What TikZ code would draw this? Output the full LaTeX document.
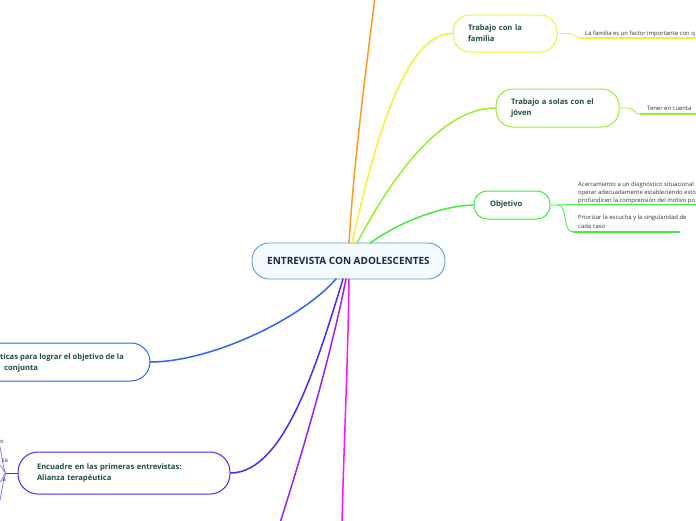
\documentclass[tikz,border=0pt]{standalone}
\usepackage{fontspec}
\setmainfont{Open Sans}
\definecolor{ctext}{HTML}{1A2A48}
\definecolor{ntext}{HTML}{1F4E3D}
\definecolor{stext}{HTML}{333333}
\definecolor{corange}{HTML}{FF9A22}
\definecolor{cyellow}{HTML}{F2F235}
\definecolor{cyg}{HTML}{99EE33}
\definecolor{cgreen}{HTML}{3DEE3D}
\definecolor{cblue}{HTML}{2A66EE}
\definecolor{cviolet}{HTML}{4A2AF0}
\definecolor{cviolet2}{HTML}{8877FF}
\definecolor{cpurple}{HTML}{9A22EE}
\definecolor{cmagenta}{HTML}{FF11FF}
\definecolor{cborder}{HTML}{5B9BD5}
\definecolor{cfill}{HTML}{F5FAFE}
\tikzset{
  pill/.style={draw, fill=white, line width=1pt, rounded corners=17pt, inner ysep=0pt, font=\fontsize{7.6}{11}\selectfont\bfseries, text=ntext, align=left},
  branch/.style={line width=1.5pt, line cap=round},
  sub/.style={line width=0.8pt},
  uline/.style={line width=1.5pt},
  small/.style={font=\fontsize{5.9}{8.2}\selectfont, text=stext, inner sep=0pt, anchor=base west, align=left},
}
\begin{document}
\begin{tikzpicture}[x=1pt,y=-1pt]
\useasboundingbox (0,0) rectangle (696,520);

% central node
\node[draw=cborder, fill=cfill, line width=0.9pt, rounded corners=17pt, minimum width=193pt, minimum height=36pt, font=\fontsize{10}{12}\selectfont\bfseries, text=ctext] (c) at (348.5,261) {ENTREVISTA CON ADOLESCENTES};
\coordinate (cT1) at (349,243);
\coordinate (cT2) at (352,243);
\coordinate (cT3) at (357,243);
\coordinate (cT4) at (370,243);
\coordinate (cB1) at (336,279);
\coordinate (cB2) at (343,279);
\coordinate (cB3) at (346,279);
\coordinate (cB4) at (349,279);

% right nodes
\node[pill, draw=cyellow, text width=74pt, inner xsep=15pt, minimum height=37pt] (fam) at (505,33.5) {Trabajo con la\\familia};
\node[pill, draw=cyg, text width=93pt, inner xsep=15pt, minimum height=38pt] (sol) at (557.5,108) {Trabajo a solas con el\\jóven};
\node[pill, draw=cgreen, text width=44pt, inner xsep=16pt, minimum height=28pt, rounded corners=13pt] (obj) at (512,205) {Objetivo};

% left nodes
\node[pill, draw=cviolet, text width=174pt, inner xsep=19pt, minimum height=42pt, rounded corners=20pt] (enc) at (124,473) {Encuadre en las primeras entrevistas:\\Alianza terapéutica};
\draw[cblue, line width=1pt, rounded corners=19pt] (0,343) -- (150,343) -- (150,381) -- (0,381);
\coordinate (estrR) at (150,362);
\node[font=\fontsize{7.6}{11}\selectfont\bfseries, text=ntext, anchor=west, align=left, inner sep=0pt] (estr) at (0,363) {ticas para lograr el objetivo de la\\\hspace*{4pt}conjunta};

% off-canvas end points
\coordinate (oTop) at (375,-3);
\coordinate (pBot) at (280,523);
\coordinate (mBot) at (342,523);

% main branches
\draw[branch, corange] (cT1) .. controls (354,160) and (366,70) .. (oTop);
\draw[branch, cyellow] (cT2) .. controls (375,140) and (405,33) .. (fam.west);
\draw[branch, cyg] (cT3) .. controls (390,180) and (440,108) .. (sol.west);
\draw[branch, cgreen] (cT4) .. controls (400,222) and (440,206) .. (obj.west);
\draw[branch, cblue] (cB1) .. controls (300,320) and (210,362) .. (estrR);
\draw[branch, cviolet] (cB2) .. controls (318,360) and (285,473) .. (enc.east);
\draw[branch, cpurple] (cB3) .. controls (330,360) and (300,460) .. (pBot);
\draw[branch, cmagenta] (cB4) .. controls (348,360) and (344,440) .. (mBot);

% sub-branch: familia
\coordinate (f1) at (580,38);
\coordinate (f2) at (696,38);
\draw[sub, cyellow] (fam.east) -- (570,33.5) .. controls (575,33.5) and (575,38) .. (f1);
\draw[uline, cyellow] (f1) -- (f2);
\node[small] (famt) at (585,35.8) {La familia es un factor importante con q};

% sub-branch: solas
\coordinate (s1) at (640,114);
\coordinate (s2) at (696,114);
\draw[sub, cyg] (sol.east) -- (628,108) .. controls (634,108) and (634,114) .. (s1);
\draw[uline, cyg] (s1) -- (s2);
\node[small] (solt) at (647,110) {Tener en cuenta};

% sub-branches: objetivo
\coordinate (o1) at (573,204.5);
\coordinate (o2) at (696,204.5);
\coordinate (o3) at (573,232);
\coordinate (o4) at (680,232);
\draw[sub, cgreen] (obj.east) -- (o1);
\draw[uline, cgreen] (o1) -- (o2);
\draw[sub, cgreen] (558,205) .. controls (568,205) and (562,232) .. (o3);
\draw[uline, cgreen] (o3) -- (o4);
\node[small] (objt1) at (578,202.5) {Acercamiento a un diagnóstico situacional\\operar adecuadamente estableciendo esto\\profundicen la comprensión del motivo po};
\node[small] (objt2) at (578,228) {Priorizar la escucha y la singularidad de\\cada caso};

% sub-branches: encuadre (cut off at left)
\coordinate (e0) at (6,473);
\coordinate (e1) at (0,447);
\coordinate (e2) at (0,465);
\coordinate (e3) at (0,482);
\coordinate (e4) at (0,500);
\draw[sub, cviolet] (enc.west) -- (e0);
\draw[sub, cviolet2] (e0) .. controls (3,470) and (2,455) .. (e1);
\draw[sub, cviolet2] (e0) .. controls (3,472) and (2,466) .. (e2);
\draw[sub, cviolet2] (e0) .. controls (3,475) and (2,481) .. (e3);
\draw[sub, cviolet2] (e0) .. controls (3,478) and (2,492) .. (e4);
\node[small, anchor=base east] (et1) at (4,443) {o};
\node[small, anchor=base east] (et2) at (8,462) {ta};
\node[small, anchor=base east] (et3) at (6,481) {a};
\end{tikzpicture}
\end{document}
